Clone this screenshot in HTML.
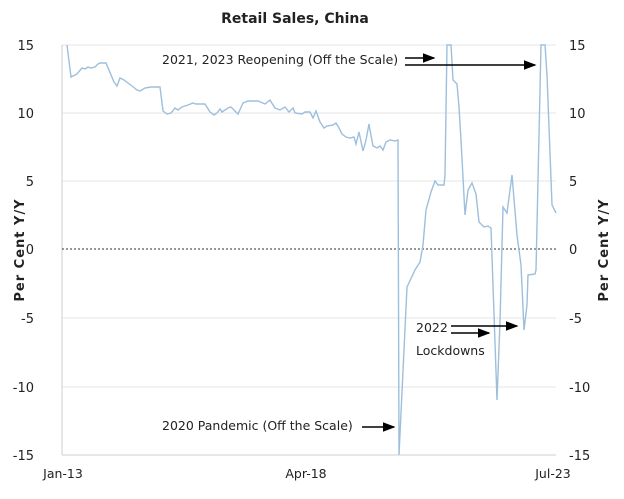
<!DOCTYPE html>
<html><head><meta charset="utf-8"><style>
body{margin:0;background:#fff;}
svg text{font-family:"DejaVu Sans","Liberation Sans",sans-serif;fill:#222;}
</style></head><body>
<svg width="624" height="494" viewBox="0 0 624 494" xmlns="http://www.w3.org/2000/svg">
<defs><marker id="ah" markerWidth="8" markerHeight="6" refX="7" refY="3" orient="auto"><path d="M0,0 L8,3 L0,6 z" fill="#000"/></marker></defs>
<text x="295" y="23" font-size="14" font-weight="bold" text-anchor="middle">Retail Sales, China</text>
<g stroke="#e4e4e4" stroke-width="1">
<line x1="62" y1="45" x2="556" y2="45"/><line x1="62" y1="113" x2="556" y2="113"/>
<line x1="62" y1="181" x2="556" y2="181"/><line x1="62" y1="318" x2="556" y2="318"/>
<line x1="62" y1="387" x2="556" y2="387"/>
</g>
<line x1="62" y1="45" x2="62" y2="455" stroke="#cfcfcf"/>
<line x1="62" y1="455" x2="556" y2="455" stroke="#cfcfcf"/>
<line x1="62" y1="249" x2="556" y2="249" stroke="#333" stroke-dasharray="2,2"/>
<g font-size="13" text-anchor="end">
<text x="34" y="50">15</text><text x="34" y="118">10</text><text x="34" y="186">5</text><text x="34" y="254">0</text><text x="34" y="323">-5</text><text x="34" y="392">-10</text><text x="34" y="460">-15</text>
</g>
<g font-size="13" text-anchor="start">
<text x="569" y="50">15</text><text x="569" y="118">10</text><text x="569" y="186">5</text><text x="569" y="254">0</text><text x="569" y="323">-5</text><text x="569" y="392">-10</text><text x="569" y="460">-15</text>
</g>
<text font-size="13" font-weight="bold" letter-spacing="1" transform="translate(24,250) rotate(-90)" text-anchor="middle">Per Cent Y/Y</text>
<text font-size="13" font-weight="bold" letter-spacing="1" transform="translate(608,250) rotate(-90)" text-anchor="middle">Per Cent Y/Y</text>
<g font-size="12.5" text-anchor="middle">
<text x="63" y="478">Jan-13</text><text x="306" y="478">Apr-18</text><text x="553" y="478">Jul-23</text>
</g>
<polyline fill="none" stroke="#9dbfdc" stroke-width="1.4" points="67,45 71,77 75,75 77,74 82,68 85,69 88,67 91,68 95,67 98,64 100,63 106,63 114,82 117,86 120,78 124,80 128,83 132,86 137,90 140,91 145,88 151,87 160,87 163,111 167,114 171,113 175,108 178,110 182,107 188,105 193,103 196,104 205,104 210,112 214,115 217,113 220,109 222,112 228,108 231,107 238,114 243,103 248,101 258,101 265,104 270,100 275,108 280,110 285,107 289,112 293,108 295,113 302,114 305,112 310,112 313,118 316,111 320,122 324,128 327,126 333,125 336,123 339,128 342,134 346,137 350,138 354,137 356,144 359,132 363,151 366,140 369,124 370,130 373,146 377,148 380,146 383,150 386,142 390,140 395,141 398,140 399,455 407,287 415,270 420,262 423,245 426,210 431,192 435,181 438,185 444,185 445,175 447,45 451,45 453,80 457,84 459,107 461,140 465,215 468,190 472,183 476,194 479,222 484,227 488,226 491,228 497,400 500,322 503,207 507,213 512,175 517,235 521,265 524,330 527,305 528,275 535,274 536,270 541,45 545,45 547,75 552,205 556,213"/>
<g font-size="12.5">
<text x="162" y="64">2021, 2023 Reopening (Off the Scale)</text>
<text x="416" y="332">2022</text>
<text x="416" y="355">Lockdowns</text>
<text x="162" y="430">2020 Pandemic (Off the Scale)</text>
</g>
<g stroke="#000" stroke-width="1.6" marker-end="url(#ah)">
<line x1="405" y1="58" x2="434" y2="58"/>
<line x1="405" y1="65" x2="535" y2="65"/>
<line x1="451" y1="326" x2="517" y2="326"/>
<line x1="451" y1="333" x2="489" y2="333"/>
<line x1="362" y1="427" x2="394" y2="427"/>
</g>
</svg>
</body></html>
